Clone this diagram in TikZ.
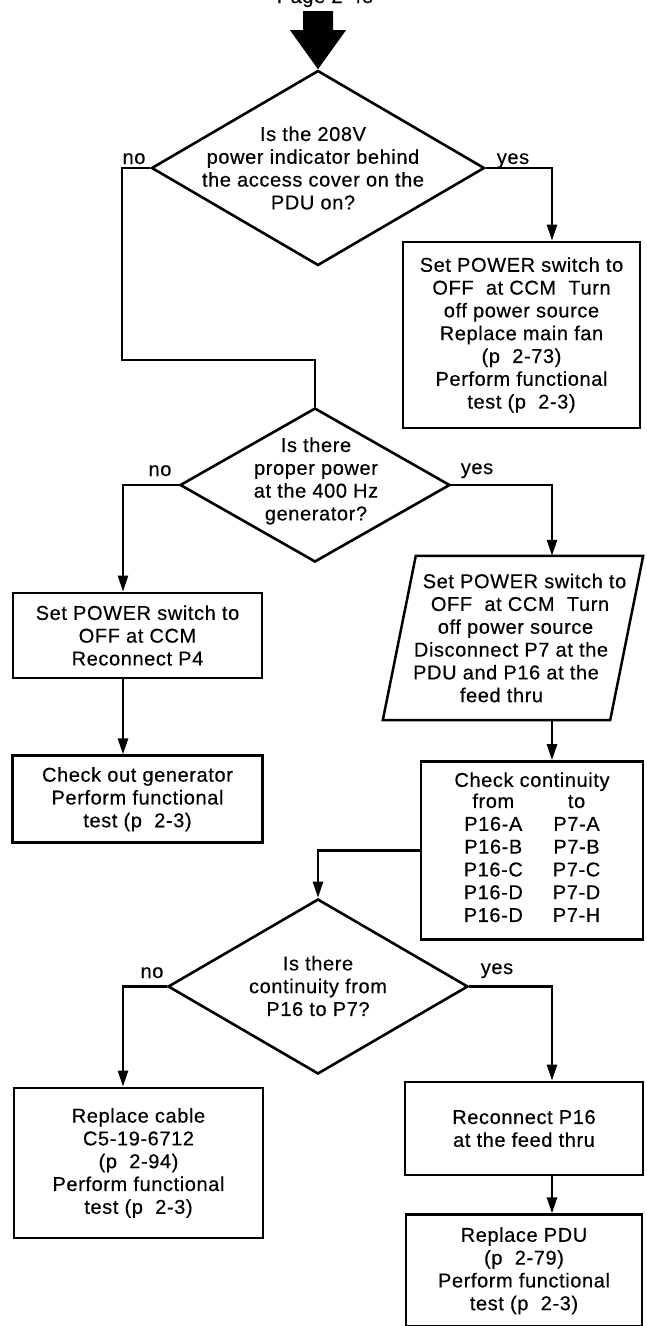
\documentclass[tikz,border=0pt]{standalone}
\usepackage{fontspec}
\setmainfont{Liberation Sans}[LetterSpace=3, FakeBold=0.4]
\usetikzlibrary{
    arrows.meta,
    shapes.geometric,
    positioning,
    calc
}
\newcommand{\chartfont}{\fontsize{20}{22.8}\selectfont}
% shift a centred line to follow the slant of the parallelogram
\newcommand{\slantright}[2]{\hspace*{#1}#2}
\newcommand{\slantleft}[2]{#2\hspace*{#1}\mbox{}}
\tikzstyle{stepbox} = [
    rectangle,
    draw=black,
    line width=2.8pt,
    align=center,
    font=\chartfont,
    inner sep=0pt
]
\tikzstyle{decision} = [
    diamond,
    draw=black,
    line width=2.6pt,
    inner sep=0pt
]
\tikzstyle{question} = [
    align=center,
    font=\chartfont,
    inner sep=0pt
]
\tikzstyle{answer} = [
    font=\chartfont,
    anchor=base,
    inner sep=0pt
]
\tikzstyle{flow} = [
    ->,
    >={Triangle[length=16pt, width=10pt]},
    line width=2.5pt,
    draw=black
]
\tikzstyle{wire} = [
    line width=2.5pt,
    draw=black,
    line join=miter
]
\begin{document}
\begin{tikzpicture}[x=1pt, y=-1pt]
        \useasboundingbox (0,0) rectangle (646,1326);
        % page reference, cut by the top edge
        \node[answer] (pageref) at (325,3) {Page 2-48};

        % columns of the vertical connectors
        \coordinate (lcol) at (123,0);
        \coordinate (rcol) at (552,0);
        \coordinate (q1no) at (122,360);

        % Decisions
        \node[decision, minimum width=333pt, minimum height=195pt] (q1) at (318,168) {};
        \node[question] (q1t) at (313,168) {Is the 208V\\power indicator behind\\the access cover on the\\PDU on?};
        \node[decision, minimum width=270pt, minimum height=154pt] (q2) at (315,485) {};
        \node[question] (q2t) at (316,481) {Is there\\proper power\\at the 400 Hz\\generator?};
        \node[decision, minimum width=300pt, minimum height=175pt] (q3) at (318,986.5) {};
        \node[question] (q3t) at (318,986) {Is there\\continuity from\\P16 to P7?};

        \node[answer] (q1n) at (134,164) {no};
        \node[answer] (q1y) at (513,164) {yes};
        \node[answer] (q2n) at (160,476) {no};
        \node[answer] (q2y) at (477,474) {yes};
        \node[answer] (q3n) at (152,978) {no};
        \node[answer] (q3y) at (497,974) {yes};

        % Steps
        \node[stepbox, minimum width=237pt, minimum height=186pt] (r1) at (521.5,335) {Set POWER switch to\\OFF~ at CCM~ Turn\\off power source\\Replace main fan\\(p~ 2-73)\\Perform functional\\test (p~ 2-3)};
        \node[stepbox, minimum width=249pt, minimum height=85pt] (l1) at (137.5,635.5) {Set POWER switch to\\OFF at CCM\\Reconnect P4};
        \node[stepbox, minimum width=250pt, minimum height=87pt, below=75pt of l1] (l2) {Check out generator\\Perform functional\\test (p~ 2-3)};
        \node[font=\chartfont, align=center, inner sep=0pt, minimum width=260pt, minimum height=164pt] (p1) at (513,638) {\slantright{23pt}{Set POWER switch to}\\\slantright{14pt}{OFF~ at CCM~ Turn}\\\slantright{5pt}{off power source}\\\slantleft{4pt}{Disconnect P7 at the}\\\slantleft{14pt}{PDU and P16 at the}\\\slantleft{23pt}{feed thru}};
        \draw[wire] (p1.south west) -- ([xshift=33pt]p1.north west) -- (p1.north east) -- ([xshift=-33pt]p1.south east) -- cycle;
        \node[stepbox, minimum width=222pt, minimum height=178pt, below=40pt of p1, xshift=19pt] (c1) {Check continuity\\
            \begin{tabular}{@{}c@{\hspace{30pt}}c@{}}
                from & to\\
                P16-A & P7-A\\
                P16-B & P7-B\\
                P16-C & P7-C\\
                P16-D & P7-D\\
                P16-D & P7-H
            \end{tabular}};
        \node[stepbox, minimum width=249pt, minimum height=150pt] (l3) at (138.5,1163) {Replace cable\\C5-19-6712\\(p~ 2-94)\\Perform functional\\test (p~ 2-3)};
        \node[stepbox, minimum width=238pt, minimum height=93pt] (r3) at (524,1128.5) {Reconnect P16\\at the feed thru};
        \node[stepbox, minimum width=236pt, minimum height=112pt, below=37pt of r3] (r4) {Replace PDU\\(p~ 2-79)\\Perform functional\\test (p~ 2-3)};

        % entry arrow
        \fill ([shift={(-15,-58)}]q1.north) -- ++(30,0) -- ++(0,19) -- ++(13,0) -- (q1.north) -- ++(-28,-39) -- ++(13,0) -- cycle;

        \draw[flow] (q1.east) -| (rcol |- r1.north);
        \draw[wire] (q1.west) -| (q1no) -| (q2.north);
        \draw[flow] (q2.west) -| (lcol |- l1.north);
        \draw[flow] (lcol |- l1.south) -- (lcol |- l2.north);
        \draw[flow] (q2.east) -| (rcol |- p1.north);
        \draw[flow] (rcol |- p1.south) -- (rcol |- c1.north);
        \draw[flow] (c1.west) -| (q3.north);
        \draw[flow] (q3.west) -| (lcol |- l3.north);
        \draw[flow] (q3.east) -| (rcol |- r3.north);
        \draw[flow] (rcol |- r3.south) -- (rcol |- r4.north);
    \end{tikzpicture}
\end{document}
